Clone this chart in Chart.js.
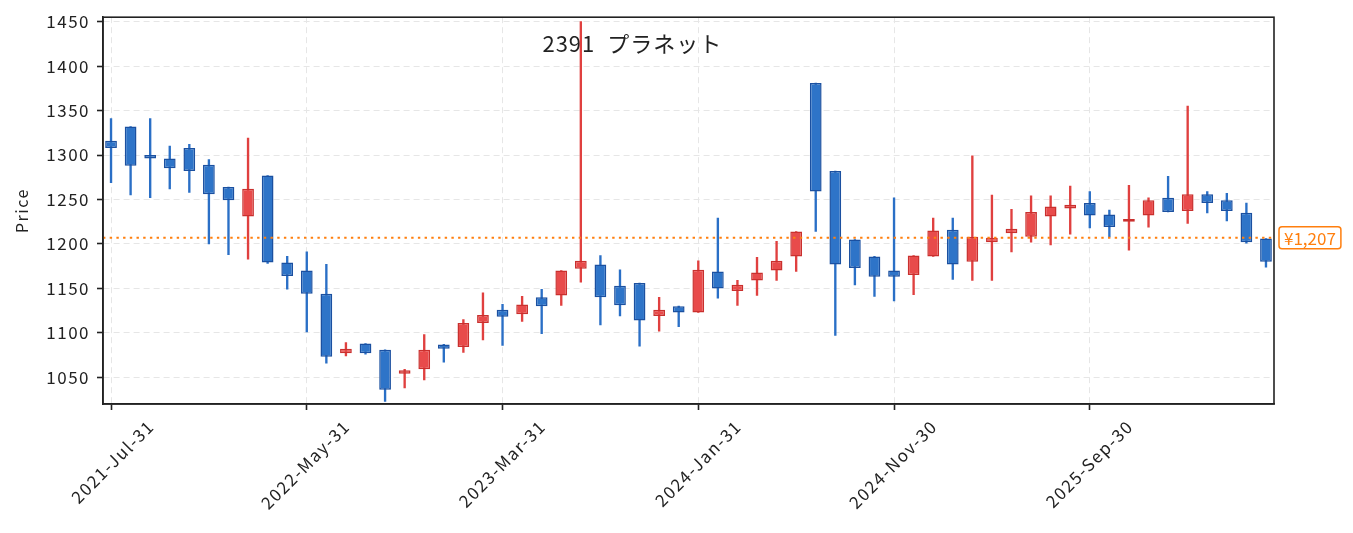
<!DOCTYPE html>
<html>
<head>
<meta charset="utf-8">
<title>2391 プラネット</title>
<script src="https://cdn.jsdelivr.net/npm/chart.js@4.4.1/dist/chart.umd.min.js"></script>
<style>
    html, body { margin: 0; padding: 0; background: #fff; }
    #wrap { width: 1353px; height: 533px; }
</style>
</head>
<body>
<div id="wrap"><canvas id="priceChart" width="1353" height="533"></canvas></div>
<script>
// 月足（月末日付）
const months = [
    '2021-Jul-31','2021-Aug-31','2021-Sep-30','2021-Oct-31','2021-Nov-30','2021-Dec-31',
    '2022-Jan-31','2022-Feb-28','2022-Mar-31','2022-Apr-30','2022-May-31','2022-Jun-30',
    '2022-Jul-31','2022-Aug-31','2022-Sep-30','2022-Oct-31','2022-Nov-30','2022-Dec-31',
    '2023-Jan-31','2023-Feb-28','2023-Mar-31','2023-Apr-30','2023-May-31','2023-Jun-30',
    '2023-Jul-31','2023-Aug-31','2023-Sep-30','2023-Oct-31','2023-Nov-30','2023-Dec-31',
    '2024-Jan-31','2024-Feb-29','2024-Mar-31','2024-Apr-30','2024-May-31','2024-Jun-30',
    '2024-Jul-31','2024-Aug-31','2024-Sep-30','2024-Oct-31','2024-Nov-30','2024-Dec-31',
    '2025-Jan-31','2025-Feb-28','2025-Mar-31','2025-Apr-30','2025-May-31','2025-Jun-30',
    '2025-Jul-31','2025-Aug-31','2025-Sep-30','2025-Oct-31','2025-Nov-30','2025-Dec-31',
    '2026-Jan-31','2026-Feb-28','2026-Mar-31','2026-Apr-30','2026-May-31','2026-Jun-30'
];

const opens = [
    1316, 1332, 1300, 1296, 1308, 1289, 1264, 1231, 1277, 1179,
    1170, 1144, 1077, 1088, 1081, 1054, 1059, 1087, 1084, 1111,
    1126, 1121, 1140, 1142, 1172, 1177, 1153, 1156, 1119, 1130,
    1123, 1169, 1147, 1159, 1170, 1186, 1381, 1282, 1205, 1186,
    1170, 1165, 1186, 1216, 1180, 1202, 1212, 1208, 1231, 1240,
    1246, 1233, 1225, 1232, 1252, 1237, 1256, 1249, 1235, 1206
];
const highs = [
    1341, 1332, 1341, 1310, 1312, 1295, 1264, 1319, 1277, 1186,
    1191, 1177, 1089, 1088, 1081, 1059, 1098, 1087, 1115, 1145,
    1132, 1141, 1149, 1170, 1450, 1187, 1171, 1156, 1140, 1130,
    1181, 1229, 1159, 1185, 1203, 1214, 1381, 1282, 1205, 1186,
    1252, 1187, 1229, 1229, 1299, 1255, 1239, 1254, 1254, 1265,
    1259, 1238, 1266, 1252, 1276, 1355, 1259, 1257, 1246, 1206
];
const lows = [
    1269, 1255, 1252, 1262, 1258, 1200, 1188, 1183, 1178, 1149,
    1101, 1066, 1074, 1076, 1023, 1038, 1047, 1067, 1078, 1092,
    1086, 1113, 1099, 1131, 1157, 1109, 1119, 1085, 1102, 1107,
    1123, 1139, 1131, 1142, 1159, 1169, 1214, 1097, 1154, 1141,
    1136, 1143, 1186, 1160, 1159, 1159, 1191, 1202, 1199, 1211,
    1218, 1208, 1193, 1219, 1236, 1223, 1235, 1226, 1201, 1174
];
const closes = [
    1308, 1288, 1296, 1285, 1282, 1256, 1249, 1262, 1179, 1164,
    1144, 1073, 1082, 1077, 1036, 1058, 1081, 1082, 1111, 1120,
    1118, 1132, 1130, 1170, 1181, 1140, 1131, 1114, 1126, 1123,
    1171, 1150, 1154, 1168, 1181, 1214, 1259, 1177, 1173, 1163,
    1163, 1187, 1215, 1177, 1208, 1207, 1217, 1236, 1242, 1244,
    1232, 1219, 1228, 1249, 1236, 1256, 1246, 1237, 1202, 1180
];

const lastPrice = 1207;
const xTickIndexes = [0, 10, 20, 30, 40, 50];
const yTickValues = [1050, 1100, 1150, 1200, 1250, 1300, 1350, 1400, 1450];
const chartTitle = '2391  プラネット';

const FONT = '"Noto Sans CJK JP", "Noto Sans", sans-serif';
const INK = '#222222';
const UP = { fill: '#e84b4b', edge: '#c9302e', wick: '#e0403f' };
const DOWN = { fill: '#2e74c8', edge: '#1b50a0', wick: '#2a6fc6' };
const ORANGE = '#ff7f0e';

const isUp = opens.map((o, i) => closes[i] >= o);

// 文字間隔（Chart.js の描画にも効くようにコンテキストへ設定）
const spacingPlugin = {
    id: 'spacing',
    beforeLayout(chart) { chart.ctx.letterSpacing = '1.5px'; },
    beforeDraw(chart) { chart.ctx.letterSpacing = '1.5px'; }
};

const titlePlugin = {
    id: 'innerTitle',
    beforeDatasetsDraw(chart) {
        const { ctx, chartArea } = chart;
        ctx.save();
        ctx.font = '22px ' + FONT;
        ctx.letterSpacing = '1px';
        ctx.fillStyle = INK;
        ctx.textAlign = 'center';
        ctx.textBaseline = 'alphabetic';
        ctx.fillText(chartTitle, chartArea.left + chartArea.width * 0.452, chartArea.top + 35);
        ctx.restore();
    }
};

const lastPricePlugin = {
    id: 'lastPrice',
    afterDatasetsDraw(chart) {
        const { ctx, chartArea, scales } = chart;
        const py = scales.y.getPixelForValue(lastPrice);
        ctx.save();
        ctx.strokeStyle = ORANGE;
        ctx.lineWidth = 2;
        ctx.setLineDash([2.4, 4.3]);
        ctx.beginPath();
        ctx.moveTo(chartArea.left, py);
        ctx.lineTo(chartArea.right, py);
        ctx.stroke();
        ctx.restore();
    },
    afterDraw(chart) {
        const { ctx, chartArea, scales } = chart;
        const py = scales.y.getPixelForValue(lastPrice);

        // 枠線（上・右）
        ctx.save();
        ctx.strokeStyle = INK;
        ctx.lineWidth = 1.6;
        ctx.strokeRect(chartArea.left, chartArea.top, chartArea.width, chartArea.height);
        ctx.restore();

        // 現在値ラベル
        const text = '¥' + lastPrice.toLocaleString('en-US');
        ctx.save();
        ctx.font = '17px ' + FONT;
        ctx.letterSpacing = '0px';
        const w = ctx.measureText(text).width;
        const bx = chartArea.right + 5;
        const bw = w + 10;
        const bh = 22;
        ctx.fillStyle = '#ffffff';
        ctx.strokeStyle = ORANGE;
        ctx.lineWidth = 1.5;
        ctx.beginPath();
        ctx.roundRect(bx, py - bh / 2, bw, bh, 3);
        ctx.fill();
        ctx.stroke();
        ctx.fillStyle = ORANGE;
        ctx.textAlign = 'left';
        ctx.textBaseline = 'middle';
        ctx.fillText(text, bx + 5, py + 1);
        ctx.restore();
    }
};

function createChart() {
    const bodies = months.map((_, i) => ({ x: i, y: [opens[i], closes[i]] }));
    const wicks = months.map((_, i) => ({ x: i, y: [lows[i], highs[i]] }));

    const ctx = document.getElementById('priceChart').getContext('2d');
    new Chart(ctx, {
        type: 'bar',
        data: {
            datasets: [
                {
                    label: 'body',
                    data: bodies,
                    backgroundColor: isUp.map(u => u ? UP.fill : DOWN.fill),
                    borderColor: isUp.map(u => u ? UP.edge : DOWN.edge),
                    borderWidth: 1.5,
                    borderSkipped: false,
                    grouped: false,
                    categoryPercentage: 1,
                    barPercentage: 0.6
                },
                {
                    label: 'wick',
                    data: wicks,
                    backgroundColor: isUp.map(u => u ? UP.wick : DOWN.wick),
                    borderWidth: 0,
                    grouped: false,
                    barThickness: 1.7
                }
            ]
        },
        options: {
            responsive: false,
            animation: false,
            devicePixelRatio: 1,
            layout: { padding: { top: 17, right: 79, left: 0, bottom: 0 } },
            plugins: {
                legend: { display: false },
                tooltip: { enabled: false }
            },
            scales: {
                x: {
                    type: 'linear',
                    offset: false,
                    min: -0.41,
                    max: months.length - 1 + 0.41,
                    afterBuildTicks: scale => {
                        scale.ticks = xTickIndexes.map(v => ({ value: v }));
                    },
                    afterFit: scale => { scale.height = 129; },
                    ticks: {
                        autoSkip: false,
                        minRotation: 45,
                        maxRotation: 45,
                        labelOffset: 40,
                        padding: 6,
                        color: INK,
                        font: { family: FONT, size: 17 },
                        callback: value => months[value] ?? ''
                    },
                    grid: {
                        offset: false,
                        color: '#e6e6e6',
                        lineWidth: 1,
                        tickColor: INK,
                        tickWidth: 1.6,
                        tickLength: 6
                    },
                    border: { color: INK, width: 1.6, dash: [6, 4] }
                },
                y: {
                    min: 1020,
                    max: 1455,
                    afterBuildTicks: scale => {
                        scale.ticks = yTickValues.map(v => ({ value: v }));
                    },
                    afterFit: scale => { scale.width = 103; },
                    ticks: {
                        padding: 7,
                        color: INK,
                        font: { family: FONT, size: 17 },
                        callback: value => String(value)
                    },
                    grid: {
                        color: '#e6e6e6',
                        lineWidth: 1,
                        tickColor: INK,
                        tickWidth: 1.6,
                        tickLength: 6
                    },
                    border: { color: INK, width: 1.6, dash: [6, 4] },
                    title: {
                        display: true,
                        text: 'Price',
                        color: INK,
                        font: { family: FONT, size: 16 },
                        padding: { top: 12, bottom: 0 }
                    }
                }
            }
        },
        plugins: [spacingPlugin, titlePlugin, lastPricePlugin]
    });
}

document.addEventListener('DOMContentLoaded', createChart);
</script>
</body>
</html>
